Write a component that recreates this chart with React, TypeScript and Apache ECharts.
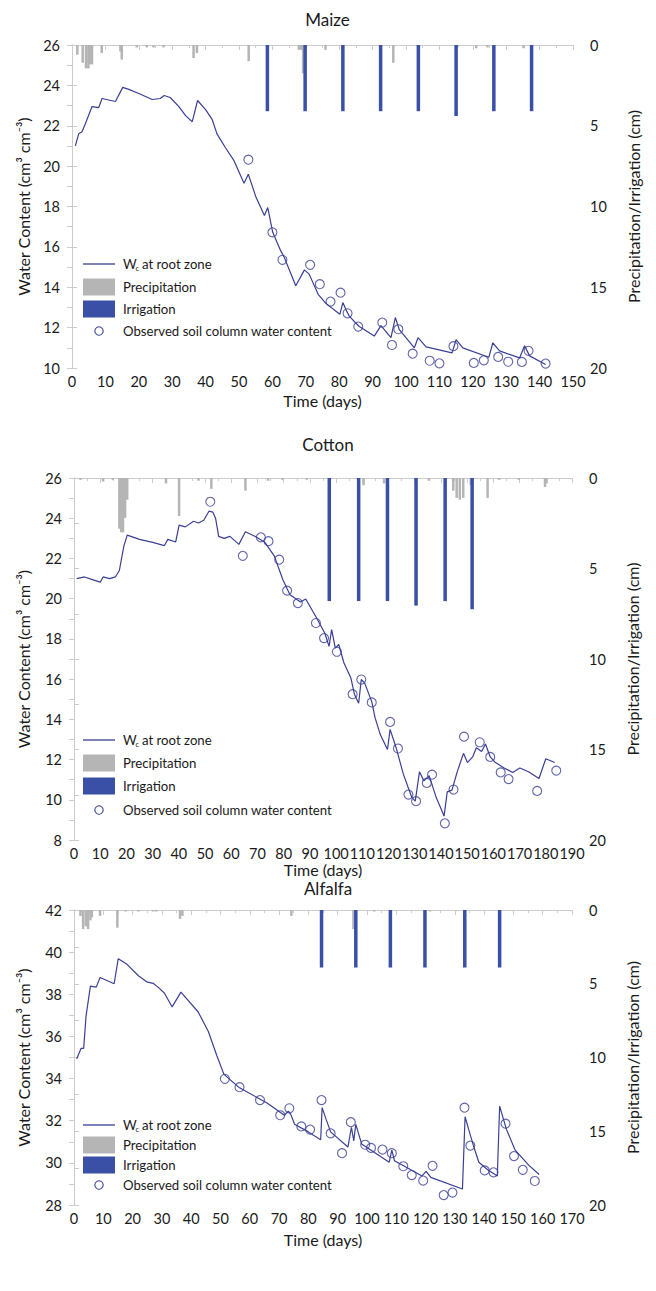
import React, { useEffect, useRef } from "react";
import * as echarts from "echarts";

// ---------- data ----------
const maizeSim = [
  [1, 21.0], [2, 21.6], [3, 21.7], [4, 22.1], [6, 22.95], [8, 22.9], [9, 23.35], [13, 23.2], [15.2, 23.9], [17, 23.8],
  [20, 23.6], [24, 23.3], [26.4, 23.35], [27.6, 23.5], [29.4, 23.4], [32, 22.95], [34, 22.5], [36, 22.2], [37.6, 23.25],
  [40, 22.8], [42, 22.3], [43.4, 21.6], [46, 20.9], [48.4, 20.3], [51.5, 19.15], [52.8, 19.6], [55, 18.5], [57.6, 17.55],
  [58.6, 17.95], [60.1, 16.72], [62.5, 15.8], [63.5, 15.5], [67, 14.07], [69.6, 14.86], [71, 14.65], [73.7, 13.65],
  [76, 13.2], [80.2, 12.66], [81.1, 13.24], [82, 12.9], [83, 12.57], [85.9, 12.07], [90.5, 11.58], [92.5, 12.1],
  [95.5, 11.5], [96.8, 12.5], [98, 11.9], [102.5, 11.0], [103.6, 11.5], [106, 11.05], [113.8, 10.75], [115, 11.4],
  [117, 11.0], [124.8, 10.53], [126, 11.25], [128, 10.85], [134, 10.5], [135.5, 11.1], [137, 10.6], [141.8, 10.17],
];
const maizeObs = [
  [52.8, 20.32], [60, 16.72], [63, 15.36], [71.3, 15.11], [74.2, 14.15], [77.4, 13.29], [80.4, 13.73], [82.5, 12.71],
  [85.7, 12.05], [92.9, 12.25], [95.8, 11.14], [97.7, 11.92], [102, 10.71], [107.1, 10.36], [110, 10.23], [114.2, 11.08],
  [120.3, 10.25], [123.3, 10.38], [127.6, 10.55], [130.6, 10.31], [134.7, 10.3], [136.7, 10.85], [141.8, 10.22],
];
const maizePrecip = [
  [1.6, 0.6], [3.2, 1.1], [4.2, 1.45], [4.9, 1.45], [5.4, 1.2], [6, 1.2], [8.9, 0.5], [14.5, 0.4], [14.9, 0.9],
  [19.4, 0.15], [22.4, 0.15], [24.4, 0.15], [27.4, 0.15], [36.4, 0.8], [37.4, 0.5], [52.9, 1.0], [67.9, 0.3],
  [68.6, 0.3], [69.2, 1.75], [75.9, 0.3], [96.2, 1.1], [115.4, 0.15], [121, 0.2], [124.4, 0.15], [135.2, 0.2],
];
const maizeIrrig = [
  [58.5, 4.1], [69.8, 4.1], [81.1, 4.1], [92.4, 4.1], [103.7, 4.1], [115, 4.4], [126.3, 4.1], [137.6, 4.1],
];

const cottonSim = [
  [1, 21.0], [4, 21.08], [7, 20.95], [10, 20.82], [11.1, 21.08], [13.6, 21.0], [15.8, 21.08], [17.3, 21.4], [19, 22.6],
  [20.3, 23.16], [25, 22.95], [30, 22.8], [34.5, 22.64], [35.8, 22.95], [38.8, 22.82], [40.1, 23.66], [42.5, 23.57],
  [45.6, 23.85], [47.5, 23.76], [49.5, 23.9], [51.5, 24.35], [53, 24.3], [54, 24.0], [55.2, 23.1], [57.3, 23.0],
  [59.5, 23.1], [62.9, 22.7], [65.4, 23.33], [69, 23.1], [72.7, 22.82], [76.4, 22.13], [79.7, 20.94], [82.4, 20.2],
  [86.4, 19.83], [88.4, 19.98], [92.3, 19.1], [95.7, 18.28], [97.3, 17.63], [98.3, 18.46], [99.7, 17.54], [101, 17.72],
  [103, 16.8], [105.6, 16.07], [107, 15.25], [108.6, 14.8], [109.6, 15.98], [110.9, 15.8], [113.6, 14.88], [114.9, 14.06],
  [116.9, 13.23], [119.6, 12.5], [120.6, 13.5], [122.9, 12.59], [125.6, 11.3], [127.6, 10.57], [128.9, 10.11],
  [130.2, 9.93], [131.8, 11.39], [133.5, 10.94], [135.5, 11.2], [138.2, 10.11], [141.2, 9.19], [142.4, 10.39],
  [144.2, 10.48], [146.2, 11.39], [148.6, 12.31], [150.1, 11.85], [152.1, 12.13], [153.5, 12.59], [155.5, 12.4],
  [157, 12.77], [158.8, 12.13], [160.8, 11.85], [164.1, 11.58], [167.4, 11.36], [170.1, 11.58], [173.4, 11.39],
  [177.4, 11.06], [180, 12.04], [183.4, 11.85],
];
const cottonObs = [
  [52, 24.82], [64.4, 22.13], [71.3, 23.05], [74.2, 22.86], [78.3, 21.94], [81.3, 20.4], [85.4, 19.78], [92.3, 18.79],
  [95.4, 18.04], [100.3, 17.36], [106.3, 15.25], [109.6, 15.98], [113.6, 14.84], [120.6, 13.87], [123.6, 12.55],
  [127.6, 10.26], [130.5, 9.93], [134.6, 10.84], [136.6, 11.25], [141.5, 8.83], [144.8, 10.51], [148.8, 13.14],
  [154.8, 12.86], [158.8, 12.13], [162.8, 11.36], [165.8, 11.03], [176.7, 10.44], [184, 11.45],
];
const cottonPrecip = [
  [2.5, 0.1], [11.1, 0.2], [14.8, 0.1], [17.3, 2.8], [18.0, 3.0], [18.7, 3.0], [19.5, 2.2], [20.3, 1.2], [35.1, 0.3],
  [40.1, 2.1], [47.5, 0.15], [52.4, 0.6], [65.4, 0.7], [74, 0.15], [79.5, 0.1], [88.8, 0.1], [110.5, 0.4], [118.3, 0.3],
  [135.4, 0.15], [144.7, 0.7], [146, 1.1], [147.2, 1.2], [148.5, 1.1], [151.4, 0.4], [157.8, 1.1], [162.2, 0.1],
  [169.7, 0.1], [179.7, 0.5], [180.3, 0.3],
];
const cottonIrrig = [[97.4, 6.8], [108.6, 6.8], [119.6, 6.8], [130.5, 7.05], [141.6, 6.8], [151.9, 7.25]];

const alfalfaSim = [
  [0.9, 34.93], [2.4, 35.43], [3.3, 35.43], [4.1, 36.95], [5.6, 38.39], [7.6, 38.34], [8.9, 38.8], [13.7, 38.5],
  [15.1, 39.69], [18.1, 39.42], [22, 38.88], [24.8, 38.59], [27, 38.52], [28.7, 38.34], [30.9, 38.05], [33.5, 37.4],
  [36.5, 38.1], [42.4, 37.16], [45.9, 36.22], [48.8, 35.07], [51.2, 34.2], [56.5, 33.56], [65.9, 32.84], [71.8, 32.26],
  [73.2, 32.45], [74, 32.3], [75.3, 31.83], [80, 31.47], [84.2, 31.1], [84.7, 32.62], [86.1, 32.05], [87.6, 31.47],
  [93.5, 30.75], [94.7, 31.69], [95.5, 31.04], [96.2, 31.83], [98.2, 30.89], [107.6, 30.03], [108.5, 30.6], [109.4, 30.1],
  [118.8, 29.38], [120.2, 29.6], [121.8, 29.31], [132.6, 28.76], [133.5, 32.19], [134.7, 31.6], [136.5, 30.75],
  [138.2, 30.03], [141.2, 29.67], [144.5, 29.38], [145.3, 32.69], [147.6, 31.6], [150.6, 30.6], [155.3, 29.88], [158.8, 29.45],
];
const alfalfaObs = [
  [51.5, 33.99], [56.5, 33.59], [63.5, 32.98], [70.4, 32.26], [73.5, 32.59], [77.6, 31.73], [80.6, 31.58], [84.5, 32.98],
  [87.6, 31.4], [91.5, 30.46], [94.5, 31.93], [99.4, 30.86], [101.4, 30.71], [105.3, 30.63], [108.5, 30.46], [112.4, 29.84],
  [115.3, 29.42], [119.2, 29.16], [122.4, 29.86], [126.2, 28.47], [129.2, 28.59], [133.3, 32.62], [135.3, 30.82],
  [140.2, 29.64], [143.2, 29.55], [147.3, 31.86], [150.2, 30.32], [153.2, 29.67], [157.3, 29.14],
];
const alfalfaPrecip = [
  [2.2, 0.4], [3.1, 1.3], [4.0, 1.1], [4.8, 1.3], [5.6, 0.7], [6.1, 0.5], [8.9, 0.4], [14.8, 1.2], [17.6, 0.1], [22, 0.1],
  [27, 0.1], [28.1, 0.1], [36.2, 0.6], [37, 0.4], [74.2, 0.4], [95.4, 1.3], [102.5, 0.1], [121.5, 0.1],
];
const alfalfaIrrig = [[84.5, 3.9], [96.2, 3.9], [108, 3.9], [119.8, 3.9], [133.4, 3.9], [145.3, 3.9]];

const panelTitles = ["Maize", "Cotton", "Alfalfa"];
const xMaxes = [150, 190, 170];
const yRanges = [[10, 26], [8, 26], [28, 42]];
const legendLabels = ["at root zone", "Precipitation", "Irrigation", "Observed soil column water content"];

// ---------- styles ----------
const FONT = 'Lato, "Open Sans", "Noto Sans", sans-serif';
const LINE_C = "#3a3f95";
const IRR_C = "#3a4fa6";
const PRE_C = "#b5b5b5";
const AXIS_C = "#cccccc";
const TXT_C = "#1a1a1a";

const layout = [
  { grid: { left: 72, top: 45, width: 501, height: 323 }, titleTop: 6, xNameGap: 24, yNameGap: 41, legendY: [264, 287, 309, 331] },
  { grid: { left: 74, top: 478, width: 498, height: 362 }, titleTop: 431, xNameGap: 21, yNameGap: 43, legendY: [740, 763, 786, 810] },
  { grid: { left: 74, top: 910, width: 498, height: 295 }, titleTop: 875, xNameGap: 26, yNameGap: 43, legendY: [1125, 1145, 1165, 1185] },
];

function legendGraphics(ys: number[]) {
  const x0 = 83, x1 = 115, tx = 123;
  const ts = { fontSize: 13.2, fontFamily: FONT, fill: TXT_C, verticalAlign: "middle", align: "left" };
  return [
    { type: "line", shape: { x1: x0, y1: ys[0], x2: x1, y2: ys[0] }, style: { stroke: LINE_C, lineWidth: 1.3 } },
    { type: "text", x: tx, y: ys[0], style: { ...ts, text: "W" } },
    { type: "text", x: tx + 12.5, y: ys[0] + 4.5, style: { ...ts, fontSize: 7.5, text: "c" } },
    { type: "text", x: tx + 19, y: ys[0], style: { ...ts, text: legendLabels[0] } },
    { type: "rect", shape: { x: x0, y: ys[1] - 8.5, width: x1 - x0, height: 17 }, style: { fill: PRE_C } },
    { type: "text", x: tx, y: ys[1], style: { ...ts, text: legendLabels[1] } },
    { type: "rect", shape: { x: x0, y: ys[2] - 8.5, width: x1 - x0, height: 17 }, style: { fill: IRR_C } },
    { type: "text", x: tx, y: ys[2], style: { ...ts, text: legendLabels[2] } },
    { type: "circle", shape: { cx: 99, cy: ys[3], r: 4.2 }, style: { fill: "none", stroke: LINE_C, lineWidth: 1.1 } },
    { type: "text", x: tx, y: ys[3], style: { ...ts, text: legendLabels[3] } },
  ];
}

function buildOption() {
  const sims = [maizeSim, cottonSim, alfalfaSim];
  const obs = [maizeObs, cottonObs, alfalfaObs];
  const pre = [maizePrecip, cottonPrecip, alfalfaPrecip];
  const irr = [maizeIrrig, cottonIrrig, alfalfaIrrig];

  const lbl = { fontSize: 14.5, color: TXT_C, fontFamily: FONT };
  const nameStyle = { fontSize: 16, color: TXT_C, fontFamily: FONT };
  const grid: any[] = [], xAxis: any[] = [], yAxis: any[] = [], series: any[] = [], title: any[] = [], graphic: any[] = [];

  layout.forEach((L, i) => {
    grid.push({ ...L.grid, containLabel: false });
    title.push({
      text: panelTitles[i], left: L.grid.left + L.grid.width / 2, top: L.titleTop, textAlign: "center",
      textStyle: { fontSize: 17, fontWeight: "normal", color: TXT_C, fontFamily: FONT },
    });
    xAxis.push({
      gridIndex: i, type: "value", min: 0, max: xMaxes[i], interval: 10,
      axisLine: { show: true, lineStyle: { color: AXIS_C } },
      axisTick: { show: true, length: 5, lineStyle: { color: AXIS_C } },
      minorTick: { show: true, splitNumber: 2, length: 3, lineStyle: { color: AXIS_C } },
      splitLine: { show: false },
      axisLabel: { ...lbl, margin: 6 },
      name: "Time (days)", nameLocation: "middle", nameGap: L.xNameGap,
      nameTextStyle: nameStyle,
    });
    xAxis.push({ gridIndex: i, type: "value", min: 0, max: xMaxes[i], show: false });
    yAxis.push({
      gridIndex: i, type: "value", min: yRanges[i][0], max: yRanges[i][1], interval: 2, position: "left",
      axisLine: { show: true, lineStyle: { color: AXIS_C } },
      axisTick: { show: true, length: 5, lineStyle: { color: AXIS_C } },
      minorTick: { show: true, splitNumber: 2, length: 5, lineStyle: { color: AXIS_C } },
      splitLine: { show: false },
      axisLabel: { ...lbl, margin: 12 },
      name: "Water Content (cm\u00b3 cm\u207b\u00b3)", nameLocation: "middle", nameGap: L.yNameGap,
      nameTextStyle: nameStyle,
    });
    yAxis.push({
      gridIndex: i, type: "value", min: 0, max: 20, interval: 5, inverse: true, position: "right",
      axisLine: { show: true, lineStyle: { color: AXIS_C } },
      axisTick: { show: true, length: 5, lineStyle: { color: AXIS_C } },
      minorTick: { show: true, splitNumber: 2, length: 5, lineStyle: { color: AXIS_C } },
      splitLine: { show: false },
      axisLabel: { ...lbl, margin: 17 },
      name: "Precipitation/Irrigation (cm)", nameLocation: "middle", nameGap: 52,
      nameTextStyle: nameStyle,
    });
    const xa = i * 2, ya = i * 2;
    series.push({
      type: "bar", xAxisIndex: xa, yAxisIndex: ya + 1, data: pre[i], barWidth: 2.5,
      itemStyle: { color: PRE_C }, silent: true,
    });
    series.push({
      type: "bar", xAxisIndex: xa + 1, yAxisIndex: ya + 1, data: irr[i], barWidth: 3.5,
      itemStyle: { color: IRR_C }, silent: true,
    });
    series.push({
      type: "line", xAxisIndex: xa, yAxisIndex: ya, data: sims[i], symbol: "none", smooth: false,
      lineStyle: { color: LINE_C, width: 1.2 }, silent: true,
    });
    series.push({
      type: "scatter", xAxisIndex: xa, yAxisIndex: ya, data: obs[i], symbol: "circle", symbolSize: 9,
      itemStyle: { color: "rgba(255,255,255,0)", borderColor: LINE_C, borderWidth: 1.1 }, silent: true,
    });
    graphic.push(...legendGraphics(L.legendY));
  });

  return {
    animation: false,
    backgroundColor: "#ffffff",
    textStyle: { fontFamily: FONT },
    title, grid, xAxis, yAxis, series, graphic,
  };
}

export default function App() {
  const ref = useRef<HTMLDivElement>(null);
  useEffect(() => {
    document.body.style.margin = "0";
    if (!ref.current) return;
    const chart = echarts.init(ref.current, undefined, { renderer: "svg" });
    chart.setOption(buildOption() as any);
    return () => chart.dispose();
  }, []);
  return <div ref={ref} style={{ width: 656, height: 1291 }} />;
}
